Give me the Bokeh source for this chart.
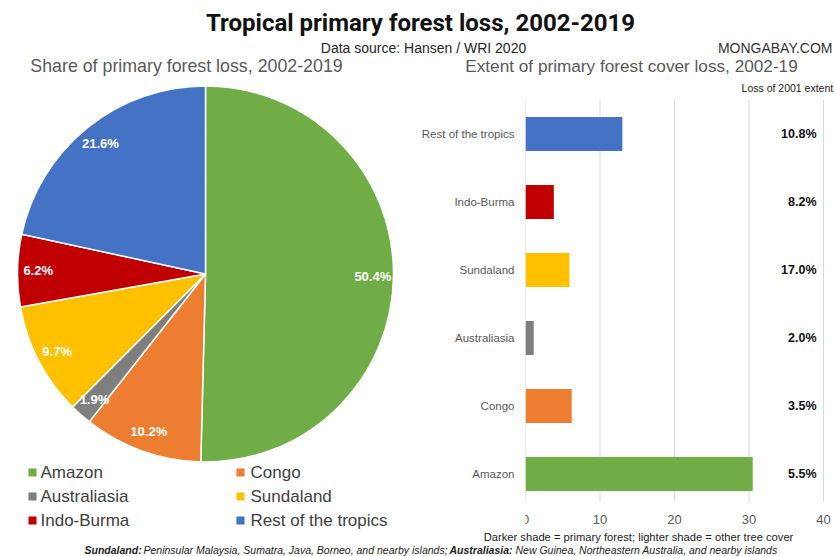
import math
from bokeh.plotting import figure
from bokeh.layouts import column, row
from bokeh.models import Range1d, FactorRange, FixedTicker, ColumnDataSource
from bokeh.core.properties import value
from bokeh.embed import file_html
from bokeh.resources import INLINE

# ---------------- data ----------------
regions = ["Amazon", "Congo", "Australiasia", "Sundaland", "Indo-Burma", "Rest of the tropics"]
share_pct = [50.4, 10.2, 1.9, 9.7, 6.2, 21.6]          # share of primary forest loss (%)
colors = ["#70AD47", "#ED7D31", "#7F7F7F", "#FFC000", "#C00000", "#4472C4"]
loss_mha = [30.5, 6.2, 1.1, 5.9, 3.8, 13.0]             # primary forest cover loss (bar length)
loss_of_2001 = ["5.5%", "3.5%", "2.0%", "17.0%", "8.2%", "10.8%"]
x_ticks = [0, 10, 20, 30, 40]

title = "Tropical primary forest loss, 2002-2019"
source_txt = "Data source: Hansen / WRI 2020"
brand = "MONGABAY.COM"
left_title = "Share of primary forest loss, 2002-2019"
right_title = "Extent of primary forest cover loss, 2002-19"
col_head = "Loss of 2001 extent"
x_note = "Darker shade = primary forest; lighter shade = other tree cover"
foot = [("Sundaland:", "bold italic"),
        ("Peninsular Malaysia, Sumatra, Java, Borneo, and nearby islands;", "italic"),
        ("Australiasia:", "bold italic"),
        ("New Guinea, Northeastern Australia, and nearby islands", "italic")]

FONT = value("Liberation Sans")
GRAY = "#595959"
W = 834


def blank(w, h, xr, yr, **kw):
    p = figure(width=w, height=h, x_range=xr, y_range=yr, output_backend="svg",
               toolbar_location=None, min_border=0, **kw)
    p.axis.visible = False
    p.grid.visible = False
    p.outline_line_color = None
    p.background_fill_color = "white"
    p.border_fill_color = "white"
    return p


# ---------------- top strip (titles), image rows 0..77 ----------------
TH = 77
top = blank(W, TH, Range1d(0, W), Range1d(0, TH))
top.text(x=[420], y=[55], text=[title], text_font=value("Roboto"),
         text_font_style="bold", text_font_size="24px", text_align="center",
         text_baseline="middle", text_color="#111111")
top.text(x=[423], y=[30], text=[source_txt], text_font=FONT, text_font_size="14px",
         text_align="center", text_baseline="middle", text_color="#262626")
top.text(x=[832], y=[30], text=[brand], text_font=FONT, text_font_size="14px",
         text_align="right", text_baseline="middle", text_color="#333333")
top.text(x=[186], y=[12], text=[left_title], text_font=FONT,
         text_font_size="17.8px", text_align="center", text_baseline="middle",
         text_color=GRAY)
top.text(x=[631], y=[12], text=[right_title], text_font=FONT,
         text_font_size="17.2px", text_align="center", text_baseline="middle",
         text_color=GRAY)

# ---------------- pie + legend, image rows 77..530 ----------------
MH = 453
LW = 408
left = blank(LW, MH, Range1d(0, LW), Range1d(0, MH))
cx, cy, r = 205, 256.5, 188
starts, ends, mids = [], [], []
acc = 0.0
for s in share_pct:
    a0 = math.pi / 2 - acc / 100 * 2 * math.pi
    acc += s
    a1 = math.pi / 2 - acc / 100 * 2 * math.pi
    starts.append(a0)
    ends.append(a1)
    mids.append((a0 + a1) / 2)
pie_src = ColumnDataSource(dict(start=starts, end=ends, color=colors))
left.wedge(x=cx, y=cy, radius=r, start_angle="start", end_angle="end", direction="clock",
           fill_color="color", line_color="white", line_width=1.5, source=pie_src)
lr = 0.89 * r
left.text(x=[cx + lr * math.cos(m) for m in mids], y=[cy + lr * math.sin(m) for m in mids],
          text=[f"{s:.1f}%" for s in share_pct], text_font=FONT, text_font_style="bold",
          text_font_size="13px", text_color="white", text_align="center",
          text_baseline="middle")

# legend (two columns, three rows)
lx_sq = [32, 240]
lx_tx = [40, 250]
ly = [58, 34, 10]
sq_x, sq_y, tx_x, tx_y = [], [], [], []
for i, name in enumerate(regions):
    c, rr = i % 2, i // 2
    sq_x.append(lx_sq[c]); sq_y.append(ly[rr])
    tx_x.append(lx_tx[c]); tx_y.append(ly[rr])
left.rect(x=sq_x, y=sq_y, width=8, height=8, fill_color=colors, line_color=None)
left.text(x=tx_x, y=tx_y, text=regions, text_font=FONT, text_font_size="17px",
          text_color="#404040", text_baseline="middle", text_align="left")

# ---------------- bar chart, image rows 77..530 ----------------
RW = W - LW                     # 426
px_per_unit = 298 / 40          # 0 -> x 525, 40 -> x 823
x_end = (RW - 117) / px_per_unit
pad = (MH - 6 * 68) / 2 / 68    # padding (per side) so each category band is 68 px
bar = figure(width=RW, height=MH,
             y_range=FactorRange(factors=regions, range_padding=pad,
                                 range_padding_units="absolute"),
             x_range=Range1d(0, x_end), output_backend="svg", toolbar_location=None,
             min_border_left=117, min_border_right=0, min_border_top=0, min_border_bottom=0)
bar.outline_line_color = None
bar.background_fill_color = "white"
bar.border_fill_color = "white"
bar.grid.visible = False
# vertical gridlines at the tick values, spanning the category band
bar.segment(x0=x_ticks, x1=x_ticks, y0=[0.09] * len(x_ticks), y1=[6.0] * len(x_ticks),
            line_color="#d9d9d9", line_width=1)
bar.hbar(y=regions, right=loss_mha, height=0.5, fill_color=colors, line_color=None)
bar.text(x=[39.06] * len(regions), y=regions, text=loss_of_2001, text_font=FONT,
         text_font_style="bold", text_font_size="12.5px", text_color="#111111",
         text_align="right", text_baseline="middle")
bar.text(x=[41.3], y=[6.18], text=[col_head], text_font=FONT, text_font_size="10.5px",
         text_color="#222222", text_align="right", text_baseline="middle")
bar.xaxis.fixed_location = 0
bar.xaxis.ticker = FixedTicker(ticks=x_ticks)
bar.xaxis.axis_line_color = None
bar.xaxis.major_tick_line_color = None
bar.xaxis.minor_tick_line_color = None
bar.xaxis.major_tick_out = 0
bar.xaxis.major_label_text_font = "Liberation Sans"
bar.xaxis.major_label_text_font_size = "13px"
bar.xaxis.major_label_text_color = GRAY
bar.xaxis.major_label_standoff = 7
bar.yaxis.axis_line_color = None
bar.yaxis.major_tick_line_color = None
bar.yaxis.minor_tick_line_color = None
bar.yaxis.major_tick_out = 0
bar.yaxis.major_label_text_font = "Liberation Sans"
bar.yaxis.major_label_text_font_size = "11.5px"
bar.yaxis.major_label_text_color = GRAY
bar.yaxis.major_label_standoff = 11

# ---------------- bottom strip: bar note + footnote, image rows 530..556 ----------------
FH = 26
bottom = blank(W, FH, Range1d(0, W), Range1d(0, FH))
bottom.text(x=[638], y=[20], text=[x_note], text_font=FONT, text_font_size="11.2px",
            text_color="#222222", text_align="center", text_baseline="middle")
foot_x = [84, 143, 449, 515]
for (txt, style), fx in zip(foot, foot_x):
    bottom.text(x=[fx], y=[7], text=[txt], text_font=FONT, text_font_style=style,
                text_font_size="10.5px", text_color="#222222", text_align="left",
                text_baseline="middle")

layout = column(top, row(left, bar), bottom)
open("out.html", "w").write(file_html(layout, INLINE))
